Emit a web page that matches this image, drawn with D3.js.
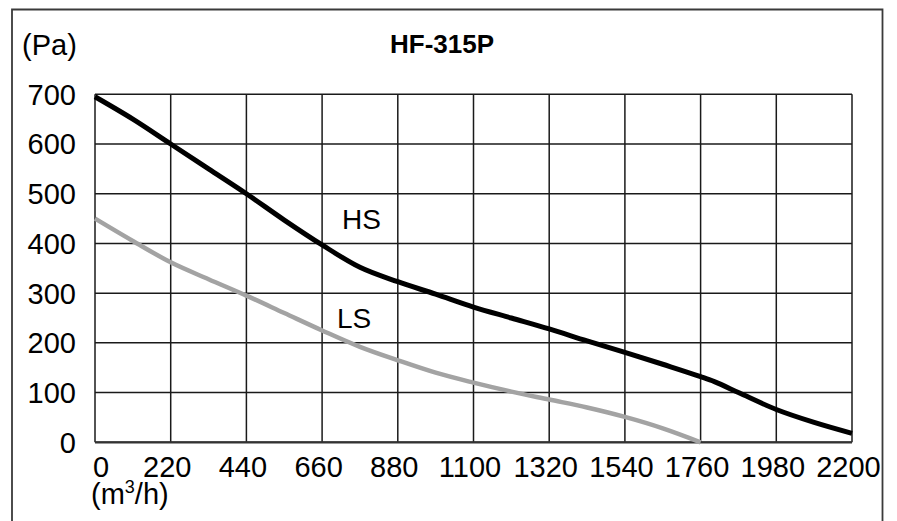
<!DOCTYPE html>
<html>
<head>
<meta charset="utf-8">
<script src="https://cdn.jsdelivr.net/npm/d3@7/dist/d3.min.js"></script>
<style>
  html, body { margin: 0; padding: 0; background: #fff; }
  svg { display: block; font-family: "Liberation Sans", Arial, sans-serif; }
</style>
</head>
<body>
<svg id="chart" width="897" height="521"></svg>
<script>
const title = "HF-315P";
const yUnit = "(Pa)";
const xTicks = [0, 220, 440, 660, 880, 1100, 1320, 1540, 1760, 1980, 2200];
const yTicks = [0, 100, 200, 300, 400, 500, 600, 700];

const hsFlow = [0, 110, 220, 330, 440, 550, 660, 770, 880, 990, 1100, 1210, 1320, 1430, 1540, 1650, 1760, 1800, 1870, 1980, 2090, 2200];
const hsPressure = [695, 650, 600, 550, 500, 447, 397, 352, 323, 298, 272, 250, 228, 204, 181, 157, 132, 122, 100, 66, 40, 18];

const lsFlow = [0, 110, 220, 330, 440, 550, 660, 770, 880, 990, 1100, 1210, 1320, 1430, 1540, 1650, 1760];
const lsPressure = [450, 405, 362, 328, 295, 260, 225, 192, 165, 140, 120, 102, 86, 70, 51, 28, 0];

const svg = d3.select("#chart");
const W = 897, H = 521;

const x = d3.scaleLinear().domain([0, 2200]).range([95, 852]);
const y = d3.scaleLinear().domain([0, 700]).range([442.3, 94.3]);

// outer frame (bottom runs off the picture)
svg.append("path")
  .attr("d", `M12,${H + 5} L12,9.5 L882.5,9.5 L882.5,${H + 5}`)
  .attr("fill", "none")
  .attr("stroke", "#3a3a3a")
  .attr("stroke-width", 1.8);

// grid
const grid = svg.append("g").attr("stroke", "#1a1a1a").attr("stroke-width", 1.5);
grid.selectAll("line.v").data(xTicks).join("line")
  .attr("x1", d => x(d)).attr("x2", d => x(d))
  .attr("y1", y(700)).attr("y2", y(0));
grid.selectAll("line.h").data(yTicks).join("line")
  .attr("x1", x(0)).attr("x2", x(2200))
  .attr("y1", d => y(d)).attr("y2", d => y(d));

svg.append("line")
  .attr("x1", x(0)).attr("x2", x(2200))
  .attr("y1", y(0)).attr("y2", y(0))
  .attr("stroke", "#333").attr("stroke-width", 2.2);

// curves
const line = d3.line().x(d => x(d[0])).y(d => y(d[1])).curve(d3.curveMonotoneX);
svg.append("path")
  .datum(lsFlow.map((f, i) => [f, lsPressure[i]]))
  .attr("d", line)
  .attr("fill", "none")
  .attr("stroke", "#a3a3a3")
  .attr("stroke-width", 4.5);
svg.append("path")
  .datum(hsFlow.map((f, i) => [f, hsPressure[i]]))
  .attr("d", line)
  .attr("fill", "none")
  .attr("stroke", "#000")
  .attr("stroke-width", 5);

const FS = 29;

// y tick labels
svg.append("g").selectAll("text").data(yTicks).join("text")
  .attr("x", 76)
  .attr("y", d => y(d))
  .attr("dy", "0.36em")
  .attr("text-anchor", "end")
  .attr("font-size", FS)
  .attr("fill", "#000")
  .text(d => d);

// x tick labels
svg.append("g").selectAll("text").data(xTicks).join("text")
  .attr("x", d => d === 0 ? x(d) - 2 : x(d) - 3.5)
  .attr("y", 477)
  .attr("text-anchor", d => d === 0 ? "start" : "middle")
  .attr("font-size", FS)
  .attr("fill", "#000")
  .text(d => d);

// unit labels
svg.append("text")
  .attr("x", 22).attr("y", 55)
  .attr("font-size", FS)
  .attr("fill", "#000")
  .text(yUnit);

const xu = svg.append("text")
  .attr("x", 91).attr("y", 504)
  .attr("font-size", FS)
  .attr("fill", "#000");
xu.append("tspan").text("(m");
xu.append("tspan").attr("font-size", 18).attr("dy", -11).text("3");
xu.append("tspan").attr("dy", 11).text("/h)");

// title
svg.append("text")
  .attr("x", 442).attr("y", 53)
  .attr("text-anchor", "middle")
  .attr("font-size", 26)
  .attr("font-weight", "bold")
  .attr("fill", "#000")
  .text(title);

// series labels
svg.append("text")
  .attr("x", 342).attr("y", 229)
  .attr("font-size", 28)
  .attr("fill", "#000")
  .text("HS");
svg.append("text")
  .attr("x", 337).attr("y", 328)
  .attr("font-size", 28)
  .attr("fill", "#000")
  .text("LS");
</script>
</body>
</html>
